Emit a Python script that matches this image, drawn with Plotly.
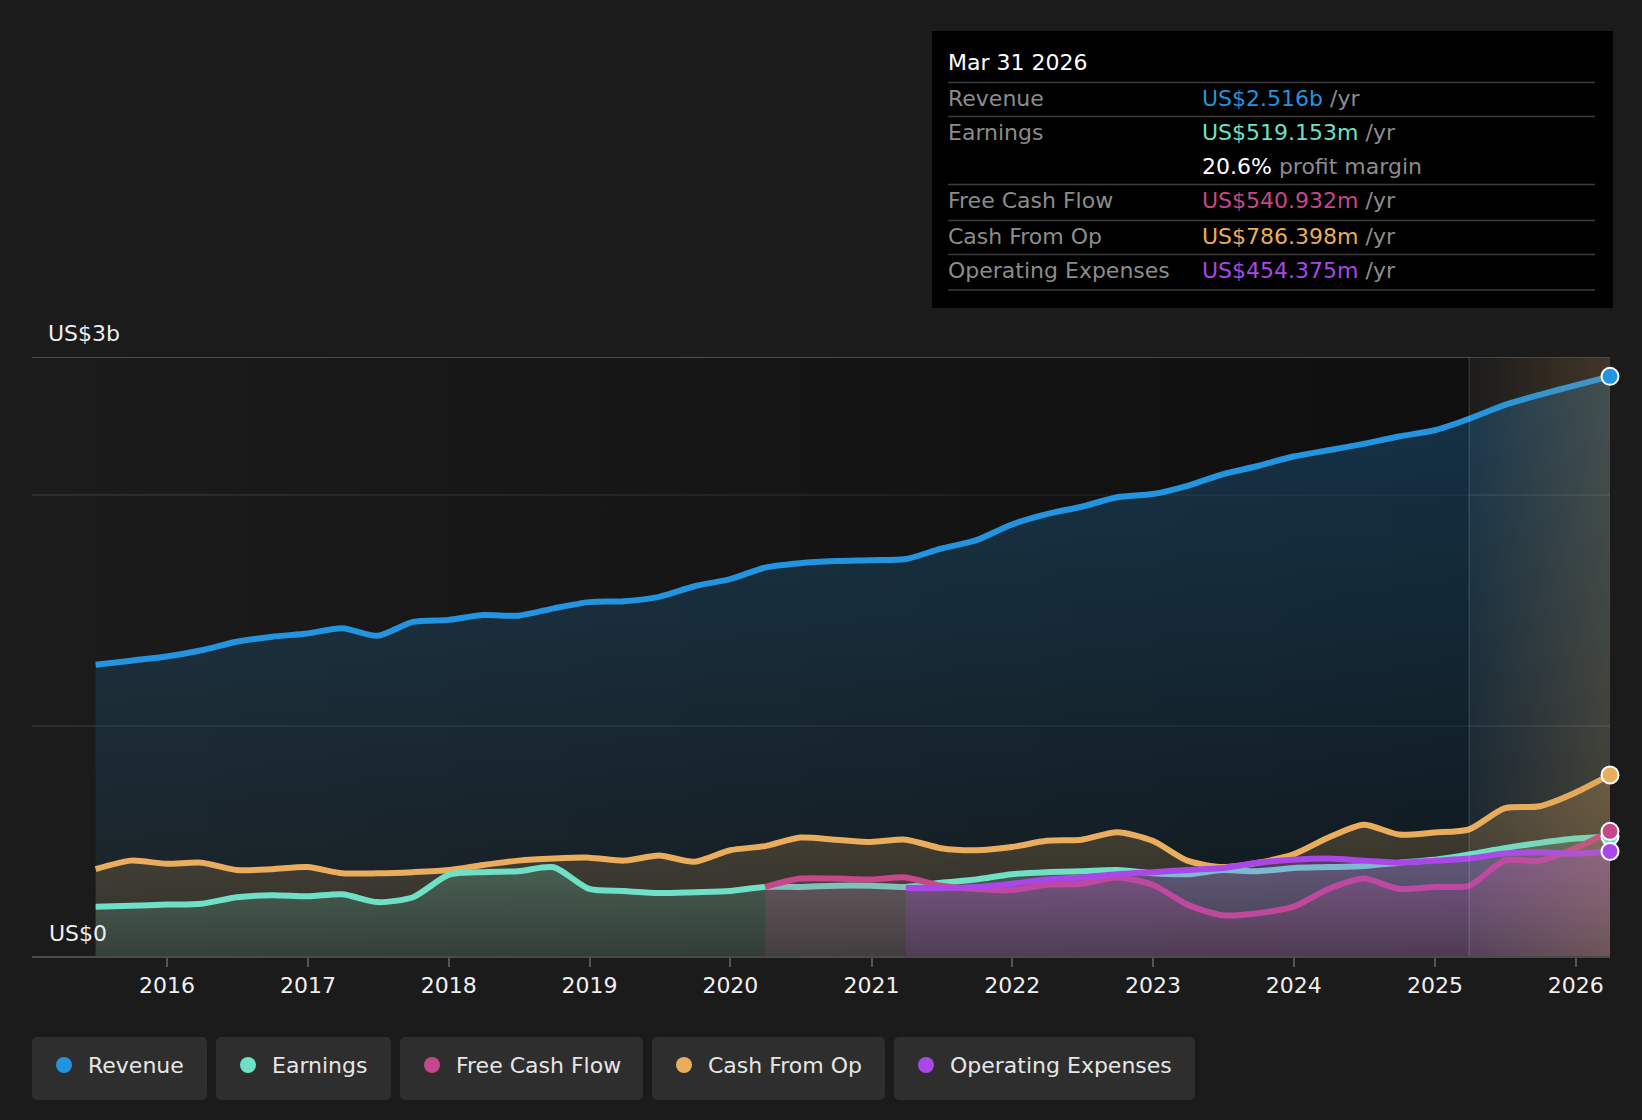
import plotly.graph_objects as go

W, H = 1642, 1120
L, R, T, B = 32, 32, 357, 164
FONT = "DejaVu Sans"
BG = "#1b1b1b"

# quarter ends, Jun 2015 .. Mar 2026
quarters = [
    "2015-06-30", "2015-09-30", "2015-12-31",
    "2016-03-31", "2016-06-30", "2016-09-30", "2016-12-31",
    "2017-03-31", "2017-06-30", "2017-09-30", "2017-12-31",
    "2018-03-31", "2018-06-30", "2018-09-30", "2018-12-31",
    "2019-03-31", "2019-06-30", "2019-09-30", "2019-12-31",
    "2020-03-31", "2020-06-30", "2020-09-30", "2020-12-31",
    "2021-03-31", "2021-06-30", "2021-09-30", "2021-12-31",
    "2022-03-31", "2022-06-30", "2022-09-30", "2022-12-31",
    "2023-03-31", "2023-06-30", "2023-09-30", "2023-12-31",
    "2024-03-31", "2024-06-30", "2024-09-30", "2024-12-31",
    "2025-03-31", "2025-06-30", "2025-09-30", "2025-12-31",
    "2026-03-31",
]

# values in US$ billions
revenue = [
    1.264, 1.282, 1.300,
    1.327, 1.364, 1.386, 1.400,
    1.423, 1.390, 1.450, 1.459,
    1.480, 1.477, 1.509, 1.536,
    1.540, 1.559, 1.605, 1.636,
    1.686, 1.705, 1.714, 1.718,
    1.723, 1.768, 1.805, 1.873,
    1.918, 1.950, 1.991, 2.005,
    2.041, 2.091, 2.127, 2.168,
    2.195, 2.223, 2.255, 2.282,
    2.332, 2.391, 2.436, 2.477,
    2.516,
]
cash_from_op = [
    0.377, 0.414, 0.400,
    0.405, 0.373, 0.377, 0.386,
    0.359, 0.359, 0.364, 0.373,
    0.395, 0.414, 0.423, 0.427,
    0.414, 0.436, 0.409, 0.459,
    0.477, 0.514, 0.505, 0.495,
    0.505, 0.468, 0.459, 0.473,
    0.500, 0.505, 0.537, 0.500,
    0.414, 0.386, 0.405, 0.441,
    0.514, 0.570, 0.527, 0.536,
    0.550, 0.641, 0.650, 0.709,
    0.786,
]
earnings = [
    0.214, 0.218, 0.223,
    0.227, 0.255, 0.264, 0.259,
    0.268, 0.234, 0.255, 0.352,
    0.364, 0.368, 0.385, 0.291,
    0.282, 0.273, 0.277, 0.282,
    0.300, 0.300, 0.305, 0.305,
    0.300, 0.318, 0.332, 0.355,
    0.364, 0.368, 0.373, 0.359,
    0.355, 0.373, 0.368, 0.382,
    0.386, 0.391, 0.405, 0.418,
    0.441, 0.468, 0.491, 0.510,
    0.519,
]
fcf_quarters = quarters[19:]
free_cash_flow = [
    0.300, 0.336, 0.336, 0.332,
    0.341, 0.305, 0.291, 0.286,
    0.309, 0.314, 0.341, 0.309,
    0.223, 0.177, 0.186, 0.214,
    0.291, 0.336, 0.291, 0.300,
    0.305, 0.414, 0.414, 0.468,
    0.541,
]
opex_quarters = quarters[23:]
operating_expenses = [
    0.295, 0.295, 0.300, 0.314,
    0.332, 0.341, 0.355, 0.364,
    0.373, 0.382, 0.405, 0.418,
    0.423, 0.414, 0.405, 0.414,
    0.423, 0.445, 0.450, 0.445,
    0.454,
]

series = [
    # name, x, y, rgb, alpha bottom, alpha top
    ("Revenue", quarters, revenue, (35, 148, 223), 0.05, 0.27),
    ("Cash From Op", quarters, cash_from_op, (233, 173, 93), 0.10, 0.26),
    ("Earnings", quarters, earnings, (111, 224, 198), 0.10, 0.26),
    ("Free Cash Flow", fcf_quarters, free_cash_flow, (197, 72, 139), 0.12, 0.28),
    ("Operating Expenses", opex_quarters, operating_expenses, (169, 71, 232), 0.12, 0.28),
]

X_START, FORECAST_START, X_END = "2015-01-16", "2025-03-31", "2026-03-31"
Y_MAX = 2.6


def rgba(c, a):
    return f"rgba({c[0]},{c[1]},{c[2]},{a})"


def px(x):
    return (x - L) / (W - L - R)


def py(y):
    return (H - B - y) / (H - T - B)


def rounded_rect(x0, y0, x1, y1, r):
    pts = [
        ("M", [(x0 + r, y0)]), ("L", [(x1 - r, y0)]), ("Q", [(x1, y0), (x1, y0 + r)]),
        ("L", [(x1, y1 - r)]), ("Q", [(x1, y1), (x1 - r, y1)]), ("L", [(x0 + r, y1)]),
        ("Q", [(x0, y1), (x0, y1 - r)]), ("L", [(x0, y0 + r)]), ("Q", [(x0, y0), (x0 + r, y0)]),
    ]
    out = ""
    for cmd, ps in pts:
        out += cmd + " ".join(f"{px(a):.5f},{py(b):.5f}" for a, b in ps) + " "
    return out + "Z"


fig = go.Figure()

# darker plot background toward the right
fig.add_trace(go.Scatter(
    x=[X_START, FORECAST_START, FORECAST_START, X_START], y=[0, 0, Y_MAX, Y_MAX],
    mode="lines", line=dict(width=0), fill="toself",
    fillgradient=dict(type="horizontal", colorscale=[[0, "rgba(0,0,0,0)"], [1, "rgba(0,0,0,0.45)"]]),
    hoverinfo="skip", showlegend=False,
))

for name, xs, ys, col, a0, a1 in series:
    fig.add_trace(go.Scatter(
        x=xs, y=ys, name=name, mode="lines",
        line=dict(color=rgba(col, 1), width=6, shape="spline", smoothing=0.7),
        fill="tozeroy",
        fillgradient=dict(type="vertical", start=0, stop=max(ys),
                          colorscale=[[0, rgba(col, a0)], [1, rgba(col, a1)]]),
        showlegend=False,
    ))

# forecast band
fig.add_trace(go.Scatter(
    x=[FORECAST_START, X_END, X_END, FORECAST_START], y=[0, 0, Y_MAX, Y_MAX],
    mode="lines", line=dict(width=0), fill="toself",
    fillgradient=dict(type="horizontal", colorscale=[[0, "rgba(200,150,80,0)"], [1, "rgba(200,150,80,0.22)"]]),
    hoverinfo="skip", showlegend=False,
))

# end markers
for idx in [0, 1, 2, 4, 3]:
    name, xs, ys, col, a0, a1 = series[idx]
    fig.add_trace(go.Scatter(
        x=[xs[-1]], y=[ys[-1]], mode="markers", cliponaxis=False,
        marker=dict(size=17, color=rgba(col, 1), line=dict(color="white", width=2)),
        showlegend=False,
    ))

shapes = [
    dict(type="line", xref="paper", yref="y", x0=0, x1=1, y0=Y_MAX, y1=Y_MAX,
         line=dict(color="#4a4a4a", width=2)),
    dict(type="line", xref="x", yref="paper", x0=FORECAST_START, x1=FORECAST_START, y0=0, y1=1,
         line=dict(color="rgba(255,255,255,0.13)", width=1.5), layer="above"),
]
annotations = [
    dict(text="US$3b", x=px(46), y=py(334), xanchor="left", yanchor="middle"),
    dict(text="US$0", x=px(47), y=py(933), xanchor="left", yanchor="middle"),
]

# tooltip box
shapes.append(dict(type="rect", xref="paper", yref="paper", x0=px(932), x1=px(1613), y0=py(308), y1=py(31),
                   fillcolor="#000000", line=dict(width=0), layer="below"))
for ly in [82.5, 116.5, 184.5, 220.5, 254.5, 290]:
    shapes.append(dict(type="line", xref="paper", yref="paper", x0=px(948), x1=px(1595), y0=py(ly), y1=py(ly),
                       line=dict(color="#3c3c3c", width=1.5)))

GREY = "#8c8c8c"
annotations.append(dict(text="Mar 31 2026", x=px(946), y=py(62), xanchor="left", yanchor="middle",
                        font=dict(color="#ffffff")))
tip_rows = [
    ("Revenue", "US$2.516b", "#2394df", 99),
    ("Earnings", "US$519.153m", "#6fe0c6", 133),
    ("Free Cash Flow", "US$540.932m", "#c5488b", 201),
    ("Cash From Op", "US$786.398m", "#e9ad5d", 237),
    ("Operating Expenses", "US$454.375m", "#a947e8", 271),
]
for label, val, col, ly in tip_rows:
    annotations.append(dict(text=label, x=px(946), y=py(ly), xanchor="left", yanchor="middle",
                            font=dict(color=GREY)))
    annotations.append(dict(text=f"<span style='color:{col}'>{val}</span> /yr", x=px(1200), y=py(ly),
                            xanchor="left", yanchor="middle", font=dict(color=GREY)))
annotations.append(dict(text="<span style='color:#ffffff'>20.6%</span> profit margin", x=px(1200), y=py(167),
                        xanchor="left", yanchor="middle", font=dict(color=GREY)))

# legend chips
legend_items = [
    ("Revenue", "#2394df", 32, 207),
    ("Earnings", "#6fe0c6", 216, 391),
    ("Free Cash Flow", "#c5488b", 400, 643),
    ("Cash From Op", "#e9ad5d", 652, 885),
    ("Operating Expenses", "#a947e8", 894, 1195),
]
for label, col, bx0, bx1 in legend_items:
    shapes.append(dict(type="path", xref="paper", yref="paper", path=rounded_rect(bx0, 1037, bx1, 1100, 6),
                       fillcolor="#2e2e2e", line=dict(width=0)))
    cx = bx0 + 32
    shapes.append(dict(type="circle", xref="paper", yref="paper", x0=px(cx - 8), x1=px(cx + 8),
                       y0=py(1073), y1=py(1057), fillcolor=col, line=dict(width=0)))
    annotations.append(dict(text=label, x=px(bx0 + 54), y=py(1065), xanchor="left", yanchor="middle",
                            font=dict(color="#e6e6e6")))

for a in annotations:
    a.update(xref="paper", yref="paper", showarrow=False)

fig.update_layout(
    width=W, height=H,
    margin=dict(l=L, r=R, t=T, b=B),
    paper_bgcolor=BG, plot_bgcolor=BG,
    font=dict(family=FONT, size=22, color="#eeeeee"),
    shapes=shapes, annotations=annotations,
    showlegend=False, hovermode=False,
    xaxis=dict(
        type="date", range=[X_START, X_END], tickformat="%Y", dtick="M12", tick0="2016-01-01",
        showgrid=False, zeroline=False, showline=True, linecolor="#4a4a4a", linewidth=2,
        ticks="outside", ticklen=9, tickwidth=1.5, tickcolor="#555555",
        tickfont=dict(size=22, color="#f0f0f0"), ticklabelstandoff=0,
    ),
    yaxis=dict(
        range=[0, Y_MAX], tickvals=[1, 2], showticklabels=False, showgrid=True,
        gridcolor="#2c2c2c", gridwidth=1.5, zeroline=False, showline=False,
    ),
)

fig.write_html(
    "out.html",
    config={"displayModeBar": False},
    post_script="document.body.style.margin='0';document.body.style.background='#1b1b1b';",
)
